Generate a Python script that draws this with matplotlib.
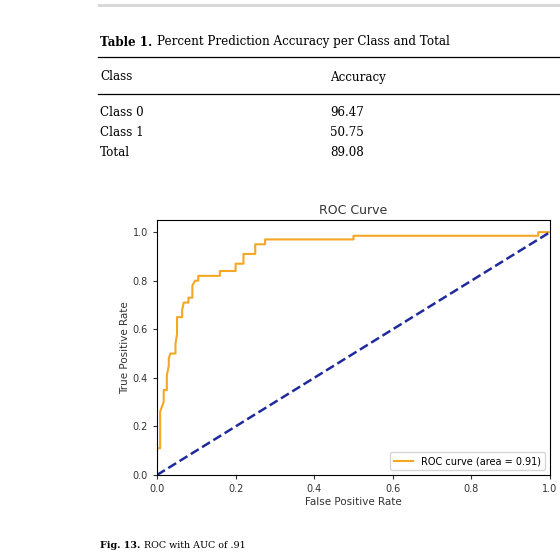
import matplotlib
matplotlib.use('Agg')
import matplotlib.pyplot as plt
from matplotlib.lines import Line2D
from matplotlib.patches import Rectangle

# table data
classes = ['Class 0', 'Class 1', 'Total']
accuracy = ['96.47', '50.75', '89.08']

# roc curve points
fpr = [0, 0, 0.008, 0.008, 0.012, 0.017, 0.017, 0.025, 0.025, 0.03, 0.03, 0.034, 0.047,
       0.047, 0.051, 0.051, 0.064, 0.064, 0.068, 0.08, 0.08, 0.09, 0.09, 0.097, 0.105,
       0.105, 0.16, 0.16, 0.2, 0.2, 0.22, 0.22, 0.25, 0.25, 0.275, 0.275, 0.50, 0.50,
       0.97, 0.97, 1.0]
tpr = [0, 0.11, 0.11, 0.26, 0.28, 0.30, 0.35, 0.35, 0.41, 0.45, 0.48, 0.50, 0.50,
       0.54, 0.58, 0.65, 0.65, 0.68, 0.71, 0.71, 0.73, 0.73, 0.78, 0.80, 0.80,
       0.82, 0.82, 0.84, 0.84, 0.87, 0.87, 0.91, 0.91, 0.95, 0.95, 0.97, 0.97, 0.985,
       0.985, 1.0, 1.0]

W = H = 560
fig = plt.figure(figsize=(5.6, 5.6), dpi=100)

def px(x, y):
    return x / W, 1 - y / H

serif = 'DejaVu Serif'

def bold_then_plain(x, y, b, p, size):
    t = fig.text(*px(x, y), b, fontsize=size, family=serif, weight='bold', va='center')
    w = t.get_window_extent(fig.canvas.get_renderer()).width
    fig.text(*px(x + w + size * 0.5, y), p, fontsize=size, family=serif, va='center')

fig.patches.append(Rectangle(px(98, 7), 462 / W, 3.5 / H, transform=fig.transFigure,
                             color='#d8d8d8', lw=0))
bold_then_plain(100, 42, 'Table 1.', 'Percent Prediction Accuracy per Class and Total', 8.6)
for yy in (57, 94):
    fig.add_artist(Line2D([98 / W, 1], [1 - yy / H] * 2, color='black', lw=0.9,
                          transform=fig.transFigure))
fig.text(*px(100, 77), 'Class', fontsize=8.6, family=serif, va='center')
fig.text(*px(330, 77), 'Accuracy', fontsize=8.6, family=serif, va='center')
for i, (c, a) in enumerate(zip(classes, accuracy)):
    yy = 113 + i * 20
    fig.text(*px(100, yy), c, fontsize=8.6, family=serif, va='center')
    fig.text(*px(330, yy), a, fontsize=8.6, family=serif, va='center')

bold_then_plain(100, 545, 'Fig. 13.', 'ROC with AUC of .91', 6.8)

ax = fig.add_axes([157 / W, 1 - 475 / H, 393 / W, 255 / H])
ax.plot(fpr, tpr, color='#f5a623', lw=1.5, label='ROC curve (area = 0.91)')
ax.plot([0, 1], [0, 1], color='#1f2a9c', lw=1.8, ls='--')
ax.set_xlim(0, 1)
ax.set_ylim(0, 1.05)
ax.tick_params(labelsize=7, length=3, colors='#333333')
ax.set_xlabel('False Positive Rate', fontsize=7.5, labelpad=2, color='#333333')
ax.set_ylabel('True Positive Rate', fontsize=7.5, labelpad=2, color='#333333')
ax.set_title('ROC Curve', fontsize=9, pad=4, color='#333333')
ax.legend(loc='lower right', fontsize=7, handlelength=2)

fig.savefig('out.png', dpi=100)
